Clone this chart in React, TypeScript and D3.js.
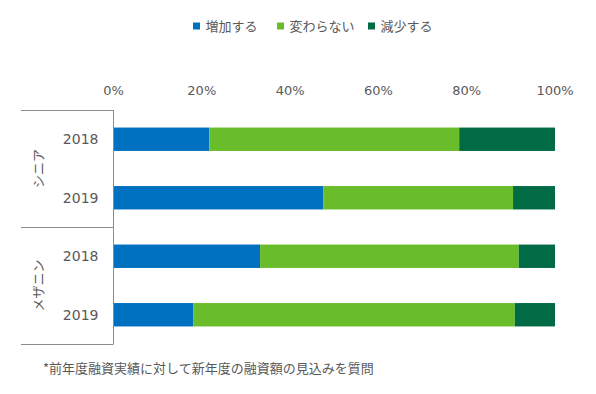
import React from "react";
import * as d3 from "d3";

const groups = ["シニア", "メザニン"];
const years = ["2018", "2019"];
const rowKeys = ["シニア-2018", "シニア-2019", "メザニン-2018", "メザニン-2019"];
const seriesNames = ["増加する", "変わらない", "減少する"];
const increase = [21.7, 47.5, 33.2, 18.1];
const unchanged = [56.6, 43.0, 58.6, 72.8];
const decrease = [21.7, 9.5, 8.2, 9.1];
const ticks = [0, 20, 40, 60, 80, 100];
const colors = ["#0070C0", "#6ABD2A", "#006B45"];
const note = "*前年度融資実績に対して新年度の融資額の見込みを質問";

const W = 596;
const H = 394;
const textColor = "#595959";
const lineColor = "#8c8c8c";
const jp = "'Noto Sans CJK JP', sans-serif";
const num = "'DejaVu Sans', sans-serif";

export default function App() {
  const x = d3.scaleLinear().domain([0, 100]).range([113.5, 555]);
  const y = d3.scaleBand().domain(rowKeys).range([110, 344]).paddingInner(0.6).paddingOuter(0.3);

  const table = rowKeys.map((k, i) => ({ key: k, 増加する: increase[i], 変わらない: unchanged[i], 減少する: decrease[i] }));
  const stacked = d3.stack<any>().keys(seriesNames)(table);

  const groupTop = 110;
  const groupBottom = 344;
  const groupH = (groupBottom - groupTop) / groups.length;

  // legend layout
  const legendX = [193, 277, 368];

  return (
    <svg width={W} height={H} style={{ position: "absolute", left: 0, top: 0, background: "#fff" }}>
      {/* legend */}
      {seriesNames.map((s, i) => (
        <g key={s}>
          <rect x={legendX[i]} y={22.5} width={7} height={7} fill={colors[i]} />
          <text x={legendX[i] + 12.5} y={31} fontFamily={jp} fontSize={13} fill={textColor}>{s}</text>
        </g>
      ))}

      {/* axis ticks */}
      {ticks.map((t) => (
        <text key={t} x={x(t)} y={94.5} textAnchor="middle" fontFamily={num} fontSize={13} fill={textColor}>
          {t}%
        </text>
      ))}

      {/* bars */}
      {stacked.map((layer, si) => (
        <g key={layer.key} fill={colors[si]}>
          {layer.map((d, i) => (
            <rect key={i} x={x(d[0])} y={y(rowKeys[i])} width={x(d[1]) - x(d[0])} height={y.bandwidth()} />
          ))}
        </g>
      ))}

      {/* year labels */}
      {rowKeys.map((k, i) => (
        <text key={k} x={98.5} y={y(k)! + y.bandwidth() / 2 + 5} textAnchor="end" fontFamily={num} fontSize={14} fill={textColor}>
          {years[i % 2]}
        </text>
      ))}

      {/* group brackets */}
      <g stroke={lineColor} strokeWidth={1} fill="none">
        <line x1={113.5} x2={113.5} y1={groupTop} y2={groupBottom} />
        {d3.range(groups.length + 1).map((i) => (
          <line key={i} x1={21} x2={113.5} y1={Math.round(groupTop + i * groupH) + 0.5} y2={Math.round(groupTop + i * groupH) + 0.5} />
        ))}
      </g>
      {groups.map((g, i) => {
        const cy = groupTop + (i + 0.5) * groupH;
        return (
          <text key={g} transform={`translate(42.5,${cy}) rotate(-90)`} textAnchor="middle" fontFamily={jp} fontSize={13} fill={textColor}>
            {g}
          </text>
        );
      })}

      {/* note */}
      <text x={43} y={373} fontFamily={jp} fontSize={13} fill={textColor}>{note}</text>
    </svg>
  );
}
